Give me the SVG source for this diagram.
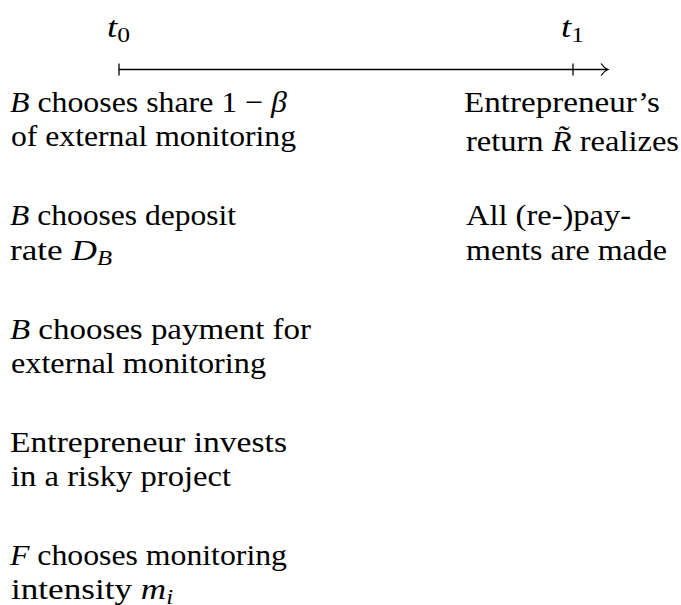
<svg xmlns="http://www.w3.org/2000/svg" width="681" height="605" viewBox="0 0 681 605">
<style>
text{font-family:"Liberation Serif","Times New Roman",serif;font-size:30px;fill:#000}
.i{font-style:italic}
.s{font-size:21px}
.ln{stroke:#000;stroke-width:1.3;fill:none}
</style>
<rect width="681" height="605" fill="#fff"/>
<g id="connectors">
<line class="ln" x1="119" y1="69.5" x2="607" y2="69.5"/>
<line class="ln" x1="119" y1="63.5" x2="119" y2="75.5"/>
<line class="ln" x1="573" y1="63.5" x2="573" y2="75.5"/>
<path class="ln" d="M601,63.5 Q604,68 608,69.5 Q604,71 601,75.5"/>
</g>
<g id="t0"><text x="107" y="37" textLength="23" lengthAdjust="spacingAndGlyphs"><tspan class="i">t</tspan><tspan class="s" dy="5">0</tspan></text></g>
<g id="t1"><text x="561" y="37" textLength="23" lengthAdjust="spacingAndGlyphs"><tspan class="i">t</tspan><tspan class="s" dy="5">1</tspan></text></g>
<g id="e1">
<text x="10" y="112" textLength="277" lengthAdjust="spacingAndGlyphs"><tspan class="i">B</tspan> chooses share 1 − <tspan class="i">β</tspan></text>
<text x="11" y="146" textLength="285" lengthAdjust="spacingAndGlyphs">of external monitoring</text>
</g>
<g id="e2">
<text x="10" y="225" textLength="226" lengthAdjust="spacingAndGlyphs"><tspan class="i">B</tspan> chooses deposit</text>
<text x="10" y="259.5" textLength="102" lengthAdjust="spacingAndGlyphs">rate <tspan class="i">D</tspan><tspan class="i s" dy="5">B</tspan></text>
</g>
<g id="e3">
<text x="10" y="338.5" textLength="301" lengthAdjust="spacingAndGlyphs"><tspan class="i">B</tspan> chooses payment for</text>
<text x="11" y="373" textLength="255" lengthAdjust="spacingAndGlyphs">external monitoring</text>
</g>
<g id="e4">
<text x="10" y="451.75" textLength="277" lengthAdjust="spacingAndGlyphs">Entrepreneur invests</text>
<text x="11" y="486.25" textLength="220" lengthAdjust="spacingAndGlyphs">in a risky project</text>
</g>
<g id="e5">
<text x="10" y="565" textLength="277" lengthAdjust="spacingAndGlyphs"><tspan class="i">F</tspan> chooses monitoring</text>
<text x="11" y="599" textLength="162" lengthAdjust="spacingAndGlyphs">intensity <tspan class="i">m</tspan><tspan class="i s" dy="5">i</tspan></text>
</g>
<g id="r1">
<text x="464" y="112" textLength="196" lengthAdjust="spacingAndGlyphs">Entrepreneur’s</text>
<text x="466" y="151" textLength="213" lengthAdjust="spacingAndGlyphs">return <tspan class="i">R̃</tspan> realizes</text>
</g>
<g id="r2">
<text x="466" y="225" textLength="165" lengthAdjust="spacingAndGlyphs">All (re-)pay-</text>
<text x="466" y="259.5" textLength="201" lengthAdjust="spacingAndGlyphs">ments are made</text>
</g>
</svg>
